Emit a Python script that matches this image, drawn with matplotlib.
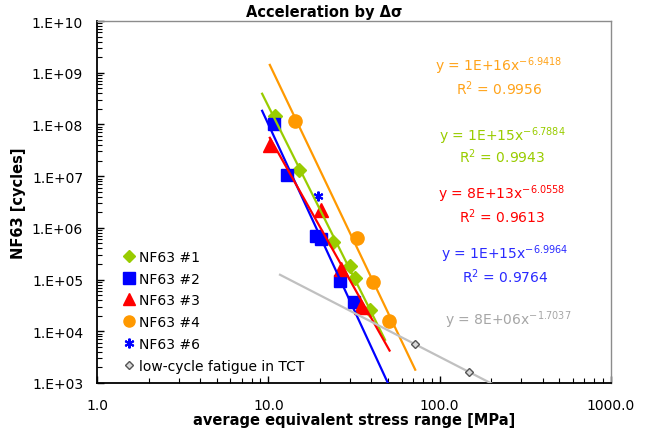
import numpy as np
import matplotlib
matplotlib.use("Agg")
import matplotlib.pyplot as plt
from matplotlib.lines import Line2D
from matplotlib.ticker import FixedLocator, FuncFormatter, NullFormatter

# --- 1. Data ---
nf1_x = [10.9, 15.1, 23.9, 30.0, 32.1, 39.2]
nf1_y = [1.46e8, 1.32e7, 5.3e5, 1.83e5, 1.07e5, 2.6e4]
nf2_x = [10.8, 12.9, 19.0, 20.3, 26.2, 31.6]
nf2_y = [1.02e8, 1.05e7, 7.0e5, 6.1e5, 9.4e4, 3.7e4]
nf3_x = [10.2, 20.3, 26.6, 34.8]
nf3_y = [4.0e7, 2.2e6, 1.6e5, 2.95e4]
nf4_x = [14.3, 33.0, 40.8, 50.7]
nf4_y = [1.17e8, 6.4e5, 9.0e4, 1.58e4]
nf6_x = [19.5]
nf6_y = [4.1e6]
lcf_x = [72.0, 148.0]
lcf_y = [5.6e3, 1.64e3]

# x range of each power trendline (incl. forecast)
trend_nf1 = [9.2, 48.0]
trend_nf2 = [9.2, 52.0]
trend_nf3 = [10.2, 51.0]
trend_nf4 = [10.2, 72.0]
trend_lcf = [11.7, 200.0]

x_ticks = [1, 10, 100, 1000]
y_ticks = [1e3, 1e4, 1e5, 1e6, 1e7, 1e8, 1e9, 1e10]

eq_nf1 = [r"y = 1E+15x$^{-6.7884}$", r"R$^2$ = 0.9943"]
eq_nf2 = [r"y = 1E+15x$^{-6.9964}$", r"R$^2$ = 0.9764"]
eq_nf3 = [r"y = 8E+13x$^{-6.0558}$", r"R$^2$ = 0.9613"]
eq_nf4 = [r"y = 1E+16x$^{-6.9418}$", r"R$^2$ = 0.9956"]
eq_lcf = [r"y = 8E+06x$^{-1.7037}$"]

GREEN, BLUE, RED, ORANGE = '#99cc00', '#0000ff', '#ff0000', '#ff9900'
GRAY = '#c0c0c0'


def power_trend(x, y, xr):
    """Least squares power fit (like Excel), evaluated over xr."""
    b, a = np.polyfit(np.log10(x), np.log10(y), 1)
    xs = np.logspace(np.log10(xr[0]), np.log10(xr[1]), 60)
    return xs, 10 ** (a + b * np.log10(xs))


fig = plt.figure(figsize=(6.49, 4.35), dpi=100)
ax = fig.add_axes([97 / 649, 51 / 435, 514 / 649, 362 / 435])
ax.set_xscale('log')
ax.set_yscale('log')

# --- 2. Markers ---
ax.plot(nf1_x, nf1_y, ls='none', marker='D', ms=7.5, color=GREEN, mec=GREEN, zorder=2)
ax.plot(nf2_x, nf2_y, ls='none', marker='s', ms=9, color=BLUE, mec=BLUE, zorder=2)
ax.plot(nf3_x, nf3_y, ls='none', marker='^', ms=10, color=RED, mec=RED, zorder=2)
ax.plot(nf4_x, nf4_y, ls='none', marker='o', ms=9.5, color=ORANGE, mec=ORANGE, zorder=2)
ax.plot(nf6_x, nf6_y, ls='none', marker=(6, 2, 0), ms=7, color=BLUE, mew=1.5, zorder=2)
ax.plot(lcf_x, lcf_y, ls='none', marker='D', ms=4, mfc='#d9d9d9', mec='#555555', mew=1, zorder=4)

# --- 3. Trendlines ---
for xs_, ys_, xr, c in [(nf1_x, nf1_y, trend_nf1, GREEN),
                        (nf2_x, nf2_y, trend_nf2, BLUE),
                        (nf3_x, nf3_y, trend_nf3, RED),
                        (nf4_x, nf4_y, trend_nf4, ORANGE),
                        (lcf_x, lcf_y, trend_lcf, GRAY)]:
    tx, ty = power_trend(xs_, ys_, xr)
    ax.plot(tx, ty, color=c, lw=1.6, zorder=3)

# --- 4. Equations ---
def put_eq(lines, x, ys, color):
    for txt, yy in zip(lines, ys):
        ax.text(x, yy, txt, transform=ax.transAxes, color=color, fontsize=10,
                ha='center', va='center')

put_eq(eq_nf4, 0.782, [0.877, 0.815], '#ffa31a')
put_eq(eq_nf1, 0.788, [0.684, 0.627], GREEN)
put_eq(eq_nf3, 0.788, [0.524, 0.461], RED)
put_eq(eq_nf2, 0.794, [0.358, 0.296], '#2a2aff')
put_eq(eq_lcf, 0.800, [0.176], '#a6a6a6')

# --- 5. Axes styling ---
ax.set_xlim(1, 1000)
ax.set_ylim(1e3, 1e10)
minor_x = [m * d for d in x_ticks[:-1] for m in range(2, 10)]
minor_y = [m * d for d in y_ticks[:-1] for m in range(2, 10)]
ax.xaxis.set_major_locator(FixedLocator(x_ticks))
ax.xaxis.set_minor_locator(FixedLocator(minor_x))
ax.yaxis.set_major_locator(FixedLocator(y_ticks))
ax.yaxis.set_minor_locator(FixedLocator(minor_y))
ax.yaxis.set_major_formatter(FuncFormatter(lambda v, p: f"1.E+{int(round(np.log10(v))):02d}"))
ax.yaxis.set_minor_formatter(NullFormatter())
ax.xaxis.set_major_formatter(FuncFormatter(lambda v, p: f"{v:.1f}"))
ax.xaxis.set_minor_formatter(NullFormatter())
ax.tick_params(which='both', direction='in', labelsize=10, color='black')
ax.tick_params(which='major', length=5, width=1)
ax.tick_params(which='minor', length=3.5, width=0.8)
ax.tick_params(axis='x', which='major', pad=11)
ax.tick_params(axis='y', which='major', pad=10)

for side in ['left', 'bottom']:
    ax.spines[side].set_color('black')
    ax.spines[side].set_linewidth(1.3)
for side in ['top', 'right']:
    ax.spines[side].set_color('#8c8c8c')
    ax.spines[side].set_linewidth(1.0)

ax.set_xlabel('average equivalent stress range [MPa]', fontsize=10.5, fontweight='bold', labelpad=0)
ax.set_ylabel('NF63 [cycles]', fontsize=10.5, fontweight='bold', labelpad=4)
fig.text(0.5, 1 - 12 / 435, 'Acceleration by Δσ', fontsize=10.5, fontweight='bold',
         ha='center', va='center')

# --- 6. Legend ---
legend_handles = [
    Line2D([], [], ls='none', marker='D', ms=6.5, color=GREEN, label='NF63 #1'),
    Line2D([], [], ls='none', marker='s', ms=8, color=BLUE, label='NF63 #2'),
    Line2D([], [], ls='none', marker='^', ms=8.5, color=RED, label='NF63 #3'),
    Line2D([], [], ls='none', marker='o', ms=8, color=ORANGE, label='NF63 #4'),
    Line2D([], [], ls='none', marker=(6, 2, 0), ms=7, mew=1.5, color=BLUE, label='NF63 #6'),
    Line2D([], [], ls='none', marker='D', ms=4, mfc='#d9d9d9', mec='#555555', label='low-cycle fatigue in TCT'),
]
ax.legend(handles=legend_handles, loc='upper left', bbox_to_anchor=(0.0516, 0.368),
          frameon=False, fontsize=10, handlelength=0.8, handletextpad=0.3,
          labelspacing=0.56, borderpad=0, borderaxespad=0)

fig.savefig('out.png', dpi=100)
